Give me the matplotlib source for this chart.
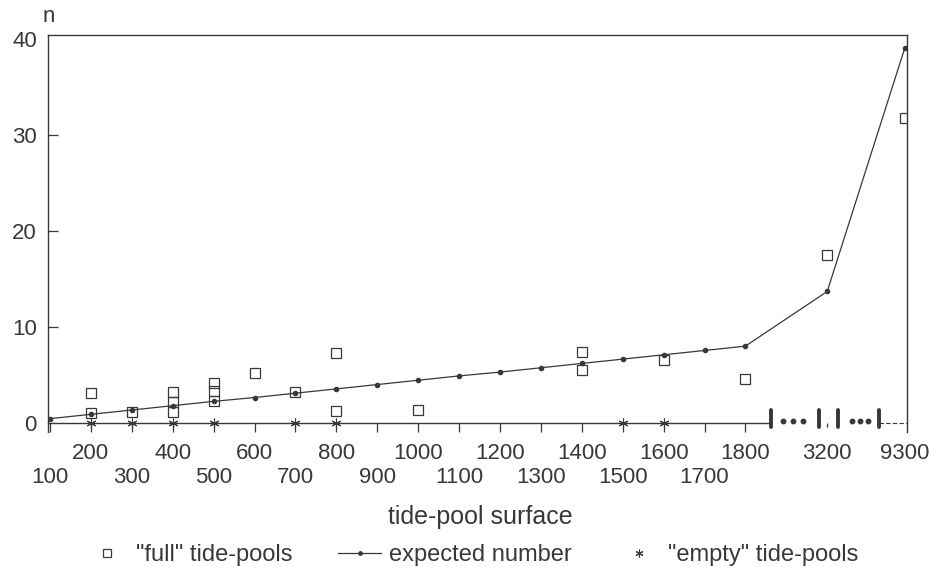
import matplotlib
matplotlib.use("Agg")
import matplotlib.pyplot as plt

# surface classes on the x axis (categorical, with a break after 1800)
surfaces = [100, 200, 300, 400, 500, 600, 700, 800, 900, 1000,
            1100, 1200, 1300, 1400, 1500, 1600, 1700, 1800, 3200, 9300]
expected_n = [0.45, 0.9, 1.35, 1.8, 2.25, 2.65, 3.1, 3.55, 4.0, 4.45,
              4.9, 5.3, 5.75, 6.2, 6.65, 7.1, 7.55, 8.0, 13.7, 39.1]

full_surface = [200, 200, 300, 400, 400, 400, 500, 500, 500, 600,
                700, 800, 800, 1000, 1400, 1400, 1600, 1800, 3200, 9300]
full_n = [3.1, 1.05, 1.1, 3.2, 2.2, 1.1, 4.2, 3.3, 2.3, 5.2,
          3.2, 7.3, 1.2, 1.3, 7.4, 5.5, 6.6, 4.6, 17.5, 31.8]

empty_surface = [200, 300, 400, 500, 700, 800, 1500, 1600]
empty_n = [0, 0, 0, 0, 0, 0, 0, 0]

# axis positions of each class (gap before 3200 for the break)
positions = list(range(18)) + [19, 20.9]
pos = dict(zip(surfaces, positions))

INK = "#383838"
plt.rcParams["font.family"] = ["Liberation Sans", "DejaVu Sans"]

fig = plt.figure(figsize=(9.39, 5.67), dpi=100)
ax = fig.add_axes([0.0511, 0.2388, 0.9148, 0.6993])

ax.plot([pos[s] for s in surfaces], expected_n, "-o", color=INK, lw=0.9,
        ms=3, label="expected number", zorder=3)
ax.plot([pos[s] for s in full_surface], full_n, "s", mfc="none", mec=INK,
        mew=0.9, ms=7.5, ls="none", label='"full" tide-pools', zorder=4)
ax.plot([pos[s] for s in empty_surface], empty_n, ls="none",
        marker=(6, 2, 0), color=INK, ms=7, mew=0.8,
        label='"empty" tide-pools', zorder=4)

ax.set_xlim(-0.05, 20.95)
ax.set_ylim(-0.9, 40.4)

for side in ["left", "right", "top", "bottom"]:
    ax.spines[side].set_color(INK)
    ax.spines[side].set_linewidth(1.0)
ax.spines["bottom"].set_position(("data", 0))
ax.spines["bottom"].set_bounds(-0.05, 17.63)

# axis break symbols between 1800 and 9300
break_bars = [17.63, 18.8, 19.27, 20.27]
break_dots = [17.92, 18.17, 18.41, 19.6, 19.8, 20.0]
for b in break_bars:
    ax.plot([b, b], [-0.45, 1.3], color=INK, lw=2.8, solid_capstyle="round",
            clip_on=False)
ax.plot(break_dots, [0.25] * len(break_dots), "o", color=INK, ms=3.2,
        clip_on=False)
ax.plot([20.27, 20.95], [0, 0], color=INK, lw=0.8, ls=(0, (4, 2)))

# y axis
ax.set_yticks([0, 10, 20, 30, 40])
ax.tick_params(axis="y", direction="in", length=7, width=0.9, pad=8,
               labelsize=16, colors=INK)
yt = ax.yaxis.get_major_ticks()
yt[0].tick1line.set_visible(False)
yt[-1].tick1line.set_visible(False)

# x axis: even classes on the upper row, odd classes on the lower row
upper = [s for i, s in enumerate(surfaces) if i % 2 == 1 or s in (3200, 9300)]
lower = [s for i, s in enumerate(surfaces[:18]) if i % 2 == 0]
ax.set_xticks([pos[s] for s in upper])
ax.set_xticklabels([str(s) for s in upper])
ax.set_xticks([pos[s] for s in lower], minor=True)
ax.set_xticklabels([str(s) for s in lower], minor=True)
ax.tick_params(axis="x", which="major", direction="out", length=6.5,
               width=0.9, pad=8, labelsize=16, colors=INK)
ax.tick_params(axis="x", which="minor", direction="out", length=6.5,
               width=0.9, pad=25, labelsize=16, colors=INK)
xt = ax.xaxis.get_major_ticks()
xt[-2].tick1line.set_markersize(3)
xt[-1].tick1line.set_visible(False)

fig.text(49 / 939, 1 - 16 / 567, "n", ha="center", va="center",
         fontsize=16, color=INK)
fig.text(480 / 939, 1 - 517 / 567, "tide-pool surface", ha="center",
         va="center", fontsize=18, color=INK)

h, l = ax.get_legend_handles_labels()
order = [1, 0, 2]
fig.legend([h[i] for i in order], [l[i] for i in order], ncol=3,
           loc="center", bbox_to_anchor=(472 / 939, 1 - 555 / 567),
           frameon=False, fontsize=17, handlelength=1.8, handletextpad=0.34,
           columnspacing=1.95, markerscale=0.8, labelcolor=INK)

fig.savefig("out.png", dpi=100)
